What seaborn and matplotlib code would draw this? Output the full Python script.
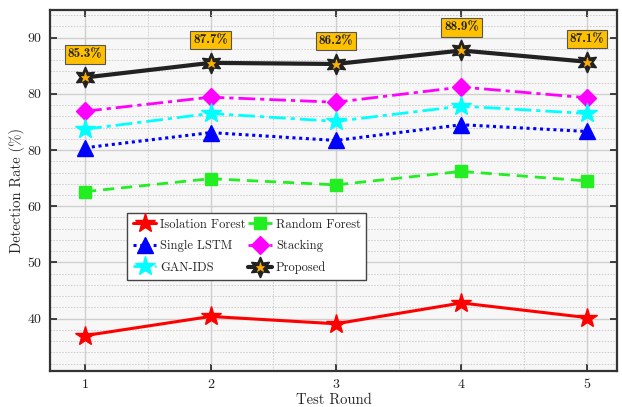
import numpy as np
import pandas as pd
import matplotlib.pyplot as plt
import seaborn as sns
from matplotlib.ticker import MultipleLocator, FixedLocator
from matplotlib.legend_handler import HandlerTuple

# Data
rounds = [1, 2, 3, 4, 5]
isolation_forest = [37.0, 40.4, 39.1, 42.8, 40.2]
random_forest = [62.6, 64.9, 63.8, 66.2, 64.5]
single_lstm = [70.4, 73.1, 71.7, 74.5, 73.3]
gan_ids = [73.7, 76.5, 75.1, 77.8, 76.5]
stacking = [76.9, 79.4, 78.5, 81.2, 79.3]
proposed = [82.9, 85.5, 85.3, 87.7, 85.7]
proposed_labels = ["85.3%", "87.7%", "86.2%", "88.9%", "87.1%"]
y_ticks = [40, 50, 60, 70, 80, 90]
y_tick_labels = ["40", "50", "60", "80", "80", "90"]

sns.set_theme(style="ticks")
plt.rcParams['font.family'] = ['cmr10', 'DejaVu Serif']
plt.rcParams['mathtext.fontset'] = 'cm'
plt.rcParams['axes.formatter.use_mathtext'] = True

fig, ax = plt.subplots(figsize=(6.22, 4.07), dpi=100)
fig.subplots_adjust(left=50/622, right=617/622, top=1-10/407, bottom=1-371/407)
ax.set_facecolor("#F7F7F7")

series = [
    ("Isolation Forest", isolation_forest,
     dict(color="#FF0000", marker="*", markersize=15, linestyle="-", linewidth=2.2)),
    ("Random Forest", random_forest,
     dict(color="#22EE22", marker="s", markersize=9, linestyle=(0, (4, 2.5)), linewidth=2.0)),
    ("Single LSTM", single_lstm,
     dict(color="#0000FF", marker="^", markersize=12, linestyle=(0, (1, 1.2)), linewidth=2.2)),
    ("Stacking", stacking,
     dict(color="#FF00FF", marker="D", markersize=9, linestyle=(0, (6, 1.8, 1.5, 1.8)), linewidth=2.0)),
    ("GAN-IDS", gan_ids,
     dict(color="#00FFFF", marker="*", markersize=15, linestyle=(0, (6, 1.8, 1.5, 1.8)), linewidth=2.0)),
    ("Proposed", proposed,
     dict(color="#222222", marker=(6, 1, 0), markersize=15, linestyle="-", linewidth=3.0)),
]

handles = {}
for name, vals, kw in series:
    sns.lineplot(x=rounds, y=vals, ax=ax, markeredgecolor=kw["color"],
                 markeredgewidth=1, zorder=3, **kw)
    handles[name] = ax.lines[-1]

# small gold star inside the Proposed markers
sns.lineplot(x=rounds, y=proposed, ax=ax, color="#FFB000", marker="*", markersize=6.5,
             markeredgecolor="#FFB000", markeredgewidth=0.5, linestyle="none", zorder=4)
handles["Proposed"] = (handles["Proposed"], ax.lines[-1])

# value boxes above Proposed
for x, y, txt in zip(rounds, proposed, proposed_labels):
    ax.annotate(txt, (x, y), xytext=(0, 16.5), textcoords="offset points",
                ha="center", va="center", fontsize=9.5,
                fontfamily=['cmb10', 'DejaVu Serif'],
                bbox=dict(boxstyle="square,pad=0.24", fc="#FFC000", ec="#555555", lw=0.8),
                zorder=5)

ax.set_xlim(0.72, 5.24)
ax.set_ylim(30.7, 94.9)
ax.set_xticks(rounds)
ax.set_xticklabels([str(r) for r in rounds])
ax.yaxis.set_major_locator(FixedLocator(y_ticks))
ax.set_yticklabels(y_tick_labels)
ax.xaxis.set_minor_locator(MultipleLocator(0.5))
ax.yaxis.set_minor_locator(MultipleLocator(2))

ax.grid(which="major", color="#CFCFCF", linestyle="-", linewidth=1.0, zorder=0)
ax.grid(which="minor", color="#CACACA", linestyle=(0, (2, 1.5)), linewidth=0.6, zorder=0)
ax.set_axisbelow(True)
ax.tick_params(which="major", direction="in", length=5, width=1.2, top=True, right=True,
               labelsize=10, colors="#222222", pad=6)
ax.tick_params(which="minor", length=0)
for s in ax.spines.values():
    s.set_color("#333333")
    s.set_linewidth(1.6)

ax.set_xlabel("Test Round", fontsize=10.5, labelpad=1)
ax.set_ylabel("Detection Rate (%)", fontsize=10.5, labelpad=2)

# legend in row order: IF, RF / LSTM, Stacking / GAN-IDS, Proposed
col_order = ["Isolation Forest", "Single LSTM", "GAN-IDS", "Random Forest", "Stacking", "Proposed"]
ax.legend([handles[n] for n in col_order], col_order, ncol=2, loc="upper left",
          bbox_to_anchor=(0.136, 0.438), borderaxespad=0, fancybox=False,
          edgecolor="#444444", framealpha=1, fontsize=9, handlelength=1.9,
          columnspacing=0.2, handletextpad=0.3, labelspacing=0.75,
          borderpad=0.45, handler_map={tuple: HandlerTuple(ndivide=1)})

fig.savefig("out.png", dpi=100)
